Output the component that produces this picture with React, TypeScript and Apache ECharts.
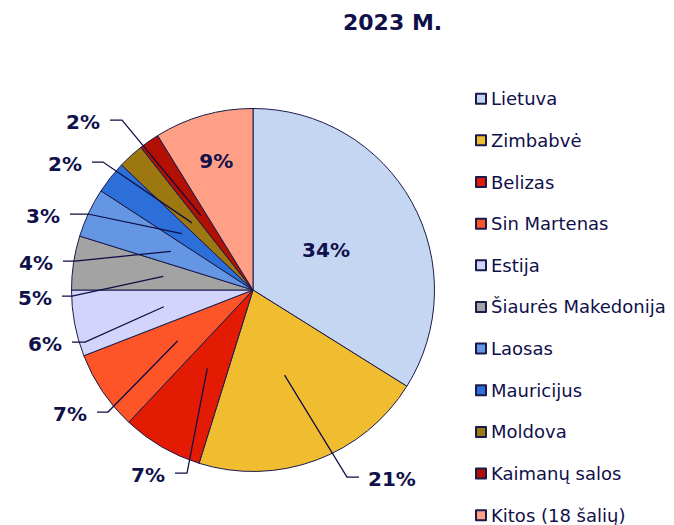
import React, { useEffect, useRef } from 'react';
import * as echarts from 'echarts';

const TITLE = '2023 M.';
const categories = [
  'Lietuva',
  'Zimbabvė',
  'Belizas',
  'Sin Martenas',
  'Estija',
  'Šiaurės Makedonija',
  'Laosas',
  'Mauricijus',
  'Moldova',
  'Kaimanų salos',
  'Kitos (18 šalių)',
];
const values = [33.9, 20.9, 7.2, 7.1, 5.9, 4.8, 4.4, 2.9, 2.3, 1.8, 8.8];

// style / layout (not data)
const colors = [
  '#C5D6F2', '#F0BC30', '#E21B02', '#FE5528', '#D3D4FB', '#A3A3A3',
  '#6596E4', '#2C6FD8', '#9D770F', '#B11002', '#FE9F86',
];
const CX = 253;
const CY = 290;
const R = 181.5;
// outer end of each leader line, relative to the pie centre (px); null = label inside slice
const labelEnds: ([number, number] | null)[] = [
  null, [106, 187], [-78, 183], [-156, 122], [-181, 52], [-191, 6],
  [-190, -29], [-183, -76], [-161, -128], [-143, -170], null,
];
const elbowLen = [0, 12, 12, 11, 13, 10, 12, 18, 11, 12, 0];
const insideRadius = [0.46, 0, 0, 0, 0, 0, 0, 0, 0, 0, 0.74];
const FONT = 'DejaVu Sans, Verdana, sans-serif';
const TEXT = '#10104A';

export default function App() {
  const ref = useRef<HTMLDivElement>(null);
  useEffect(() => {
    document.body.style.margin = '0';
    const chart = echarts.init(ref.current!, null, { renderer: 'svg' });
    const total = values.reduce((a, b) => a + b, 0);
    const mids: number[] = [];
    let acc = 0;
    values.forEach((v) => {
      mids.push(((acc + v / 2) / total) * 2 * Math.PI);
      acc += v;
    });
    const pt = (i: number, r: number): [number, number] => [
      CX + r * Math.sin(mids[i]),
      CY - r * Math.cos(mids[i]),
    ];

    const common = {
      type: 'pie',
      center: [CX, CY],
      radius: R,
      startAngle: 90,
      clockwise: true,
      avoidLabelOverlap: false,
      emphasis: { disabled: true },
    };

    chart.setOption({
      animation: false,
      color: colors,
      title: {
        text: TITLE,
        left: 343,
        top: 11,
        padding: 0,
        textStyle: { fontFamily: FONT, fontSize: 22, fontWeight: 'bold', color: TEXT },
      },
      legend: {
        orient: 'vertical',
        left: 475,
        top: 89.7,
        height: 450,
        itemWidth: 10,
        itemHeight: 10,
        itemGap: 23.65,
        icon: 'rect',
        selectedMode: false,
        padding: 0,
        data: categories,
        textStyle: { fontFamily: FONT, fontSize: 18, color: TEXT, lineHeight: 18 },
      },
      series: [
        {
          ...common,
          name: 'slices',
          itemStyle: { borderColor: '#1B1B4B', borderWidth: 1 },
          label: { show: false },
          labelLine: { show: false },
          data: categories.map((name, i) => ({ name, value: values[i] })),
        },
        {
          ...common,
          name: 'labels',
          z: 3,
          silent: true,
          legendHoverLink: false,
          itemStyle: { color: 'rgba(0,0,0,0)', borderWidth: 0 },
          label: {
            show: true,
            position: 'outside',
            formatter: (p: any) => Math.round(p.percent) + '%',
            fontFamily: FONT,
            fontWeight: 'bold',
            fontSize: 20,
            color: TEXT,
          },
          labelLine: {
            show: true,
            length: 10,
            length2: 10,
            lineStyle: { color: '#0C0C46', width: 1.25 },
          },
          labelLayout: (params: any) => {
            const i = params.dataIndex;
            const end = labelEnds[i];
            if (!end) {
              const [x, y] = pt(i, R * insideRadius[i]);
              return { x, y, align: 'center', verticalAlign: 'middle' };
            }
            const ex = CX + end[0];
            const ey = CY + end[1];
            const right = end[0] > 0;
            const bx = right ? ex - elbowLen[i] : ex + elbowLen[i];
            const inner = pt(i, R * 0.5);
            return {
              x: right ? ex + 9 : ex - 10,
              y: ey + 1.5,
              align: right ? 'left' : 'right',
              verticalAlign: 'middle',
              labelLinePoints: [inner, [bx, ey], [ex, ey]],
            };
          },
          data: categories.map((name, i) => ({
            name,
            value: values[i],
            labelLine: { show: labelEnds[i] !== null },
          })),
        },
      ],
    });
    return () => chart.dispose();
  }, []);
  return <div ref={ref} style={{ width: 674, height: 525 }} />;
}
